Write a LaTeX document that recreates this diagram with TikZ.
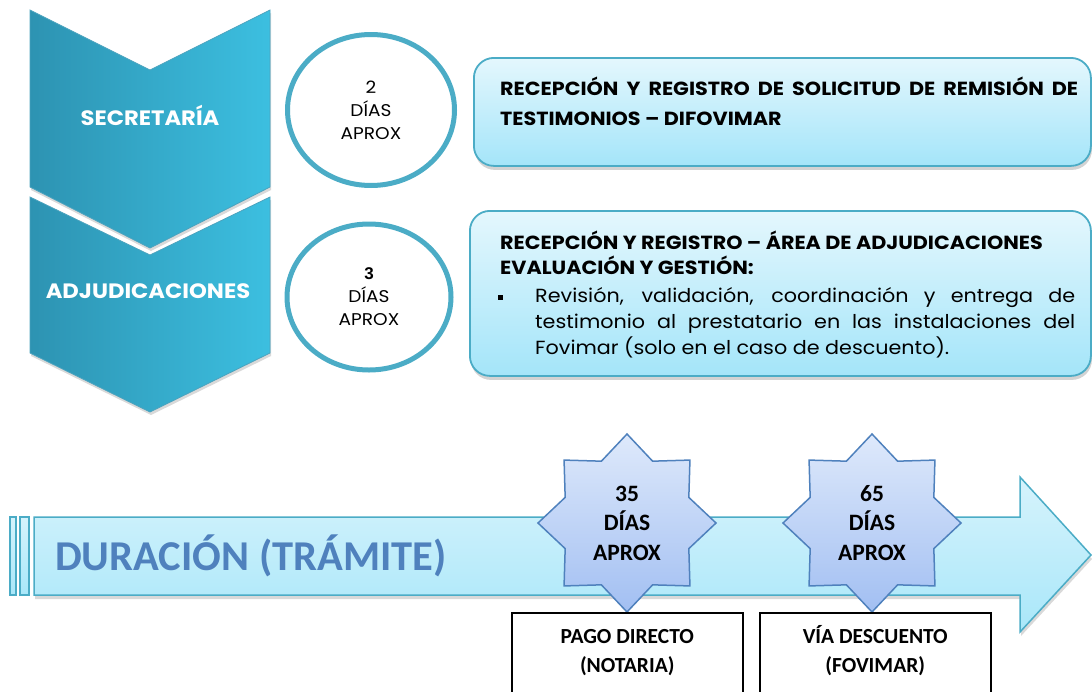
\documentclass[tikz,border=0pt]{standalone}
\usepackage{fontspec}
\newfontfamily\gothic{Poppins}[FakeStretch=1.09]
\newfontfamily\calfont{Carlito}
\newfontfamily\arialf{Liberation Sans}
\usetikzlibrary{shapes.geometric,shadows,calc}
\definecolor{chevL}{HTML}{2D93B2}
\definecolor{chevR}{HTML}{3CBFE0}
\definecolor{ringc}{HTML}{4BACC6}
\definecolor{boxT}{HTML}{E4F7FD}
\definecolor{boxB}{HTML}{A4E5F9}
\definecolor{arrT}{HTML}{D6F3FC}
\definecolor{arrB}{HTML}{A9E7F9}
\definecolor{starT}{HTML}{DEE9FB}
\definecolor{starB}{HTML}{A2BFF2}
\definecolor{starE}{HTML}{4F81BD}
\definecolor{durc}{HTML}{4F81BD}
\tikzset{
  chev/.style={left color=chevL, right color=chevR, draw=chevL!85!white, line width=0.8pt,
    drop shadow={shadow xshift=1pt, shadow yshift=-3pt, opacity=0.3}},
  chevtxt/.style={text=white, font=\gothic\bfseries\fontsize{20.8}{24}\selectfont, inner sep=0pt},
  ringnode/.style={ellipse, draw=ringc, line width=5pt, fill=white, inner sep=0pt,
    align=center, font=\gothic\fontsize{17}{23}\selectfont},
  rbox/.style={rectangle, rounded corners=20pt, draw=ringc, line width=1.8pt,
    top color=boxT, bottom color=boxB, anchor=north west,
    drop shadow={shadow xshift=1pt, shadow yshift=-4pt, opacity=0.35}},
  boxtxt/.style={inner sep=0pt, anchor=north west, align=left},
  arrbody/.style={top color=arrT, bottom color=arrB, draw=ringc, line width=1.5pt},
  starnode/.style={star, star points=8, star point ratio=1.33, minimum size=178pt, inner sep=0pt,
    top color=starT, bottom color=starB, draw=starE, line width=1.5pt,
    align=center, font=\calfont\bfseries\fontsize{23.5}{29.5}\selectfont},
  outbox/.style={rectangle, draw=black, line width=1.5pt, fill=white, anchor=north west,
    minimum width=231pt, minimum height=110pt},
  outtxt/.style={align=center, font=\calfont\bfseries\fontsize{21.5}{29}\selectfont, inner sep=0pt, anchor=north}
}
\begin{document}
\begin{tikzpicture}[x=1pt,y=-1pt]
\useasboundingbox (0,0) rectangle (1092,691);

% chevrons
\path[chev] (30,197) -- (150,255) -- (270,197) -- (270,353) -- (150,412) -- (30,353) -- cycle;
\path[chev] (30,10) -- (150,70) -- (270,10) -- (270,187) -- (150,248) -- (30,187) -- cycle;
\node[chevtxt] (sec) at (150,115) {SECRETARÍA};
\node[chevtxt] (adj) at (148,291) {ADJUDICACIONES};

% circles
\node[ringnode, minimum width=167pt, minimum height=151pt] (c1) at (371,110) {2\\DÍAS\\APROX};
\node[ringnode, minimum width=164pt, minimum height=146pt] (c2) at (369,297) {{\arialf\bfseries 3}\\DÍAS\\APROX};

% rounded boxes
\node[rbox, minimum width=617pt, minimum height=108pt] (b1) at (473,57) {};
\node[rbox, minimum width=621pt, minimum height=165pt] (b2) at (469,210) {};

\node[boxtxt, font=\gothic\bfseries\fontsize{19}{30}\selectfont] (t1) at (500,77)
  {\makebox[578pt][s]{RECEPCIÓN Y REGISTRO DE SOLICITUD DE REMISIÓN DE}\\TESTIMONIOS – DIFOVIMAR};
\node[boxtxt, font=\gothic\bfseries\fontsize{19}{25}\selectfont] (t2) at (500,231)
  {RECEPCIÓN Y REGISTRO – ÁREA DE ADJUDICACIONES\\EVALUACIÓN Y GESTIÓN:};
\node[fill=black, minimum size=5pt, inner sep=0pt] (bul) at (500,297) {};
\node[boxtxt, font=\gothic\fontsize{19}{26}\selectfont] (t3) at (535,287)
  {\makebox[540pt][s]{Revisión, validación, coordinación y entrega de}\\
   \makebox[540pt][s]{testimonio al prestatario en las instalaciones del}\\
   Fovimar (solo en el caso de descuento).};

% timeline arrow
\path[arrbody, drop shadow={shadow xshift=1pt, shadow yshift=-4pt, opacity=0.3}]
  (34,517) -- (1020,517) -- (1020,477) -- (1091,555) -- (1020,632) -- (1020,595) -- (34,595) -- cycle;
\path[arrbody] (10,517) rectangle (16,595);
\path[arrbody] (20,517) rectangle (29,595);
\node[anchor=west, inner sep=0pt, text=durc, font=\calfont\bfseries\fontsize{42.5}{44}\selectfont] (dur) at (55,556) {DURACIÓN (TRÁMITE)};

% stars
\node[starnode] (s1) at (627,523) {35\\DÍAS\\APROX};
\node[starnode] (s2) at (872,523) {65\\DÍAS\\APROX};

% bottom boxes
\node[outbox] (pd) at (511,612) {};
\node[outbox] (vd) at (759,612) {};
\node[outtxt] (pdt) at ($(pd.north)+(0,13)$) {\vphantom{Í}PAGO DIRECTO\\(NOTARIA)};
\node[outtxt] (vdt) at ($(vd.north)+(0,13)$) {VÍA DESCUENTO\\(FOVIMAR)};
\end{tikzpicture}
\end{document}
